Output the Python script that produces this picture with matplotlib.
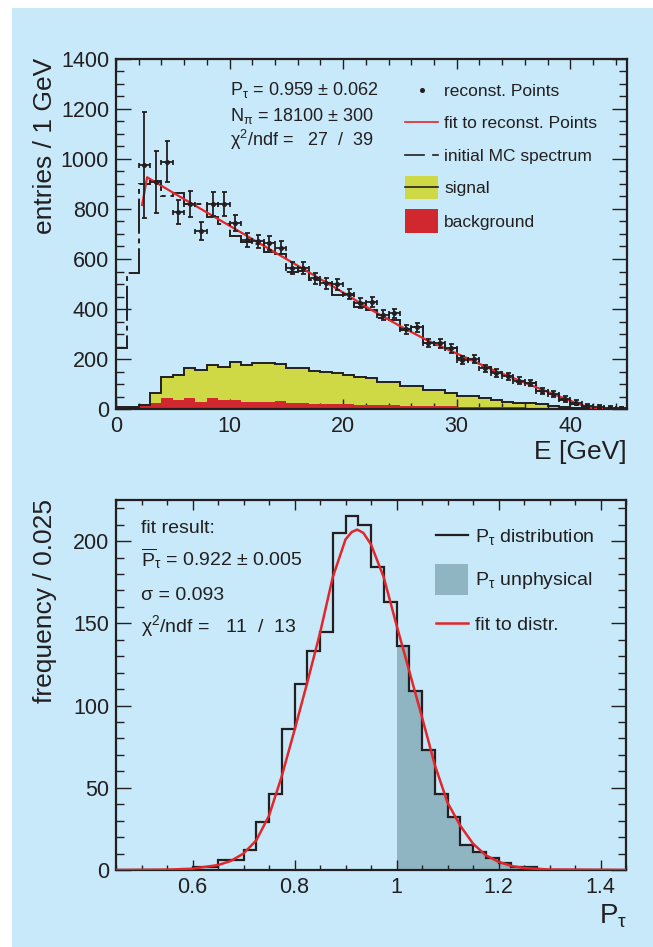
import numpy as np
import matplotlib
matplotlib.use("Agg")
import matplotlib.pyplot as plt
from matplotlib.patches import Rectangle
from matplotlib.lines import Line2D
from matplotlib.ticker import MultipleLocator, FixedLocator, FixedFormatter

plt.rcParams['font.family'] = ['Liberation Sans', 'DejaVu Sans']
plt.rcParams['mathtext.fontset'] = 'custom'
plt.rcParams['mathtext.rm'] = 'Liberation Sans'
plt.rcParams['mathtext.it'] = 'Liberation Sans:italic'
plt.rcParams['mathtext.bf'] = 'Liberation Sans:bold'

# ---------------- energy spectrum (1 GeV bins, 0..45 GeV) ----------------
e_edges = np.arange(0, 46, 1.0)

mc_spectrum = [244, 545, 900, 913, 853, 863, 820, 820, 769, 740,
               693, 669, 660, 629, 620, 550, 553, 516, 503, 456,
               456, 409, 396, 363, 356, 316, 329, 263, 256, 243,
               203, 196, 167, 149, 136, 109, 103, 73, 56, 36,
               20, 9, 0, 0, 0]

signal = [8, 10, 16, 65, 129, 136, 163, 156, 176, 167,
          187, 176, 183, 183, 179, 163, 163, 153, 149, 143,
          136, 127, 126, 109, 109, 93, 93, 76, 76, 65,
          52, 52, 43, 36, 29, 25, 25, 20, 13, 9,
          5, 3, 1, 0, 0]

background = [6, 8, 12, 26, 46, 36, 46, 29, 45, 36,
              36, 29, 27, 29, 32, 23, 23, 22, 21, 20,
              19, 18, 16, 16, 15, 14, 14, 12, 12, 11,
              10, 10, 9, 8, 8, 7, 6, 6, 5, 4,
              3, 2, 1, 1, 0]

reco_E = [2.5, 3.5, 4.5, 5.5, 6.5, 7.5, 8.5, 9.5, 10.5, 11.5,
          12.5, 13.5, 14.5, 15.5, 16.5, 17.5, 18.5, 19.5, 20.5, 21.5,
          22.5, 23.5, 24.5, 25.5, 26.5, 27.5, 28.5, 29.5, 30.5, 31.5,
          32.5, 33.5, 34.5, 35.5, 36.5, 37.5, 38.5, 39.5, 40.5, 41.5,
          42.5, 43.5, 44.5]
reco_N = [975, 907, 989, 787, 820, 711, 820, 820, 743, 675,
          670, 664, 644, 564, 566, 523, 503, 499, 460, 425,
          429, 376, 383, 320, 327, 265, 263, 243, 196, 199,
          163, 145, 132, 113, 105, 73, 60, 40, 25, 12,
          7, 4, 3]
reco_err = [212, 125, 83, 47, 53, 35, 48, 47, 33, 28,
            27, 27, 26, 24, 24, 22, 22, 21, 20, 20,
            20, 19, 19, 18, 18, 17, 17, 17, 16, 16,
            15, 15, 14, 14, 13, 12, 12, 11, 10, 9,
            8, 7, 7]

fit_E = [2.3, 2.74, 5, 10, 15, 20, 22.35, 25, 27.35, 30, 33.2, 36, 39.1, 40, 41, 41.8, 42.3, 45]
fit_N = [816, 927, 866, 733, 600, 466, 400, 332, 276, 222, 156, 105, 49, 33, 16, 5, 0, 0]

# ---------------- P_tau distribution (0.025 bins) ----------------
p_edges = np.round(np.arange(0.45, 1.4501, 0.025), 3)
p_counts = [0, 0, 0, 0, 0, 0,
            2, 2, 6, 6, 12, 29, 46, 86, 113, 133,
            145, 205, 215, 210, 184, 163, 136, 109, 73, 46,
            32, 15, 11, 7, 4, 2, 2, 0, 0, 0,
            0, 0, 0, 0]

pfit_P = [0.45, 0.55, 0.6, 0.65, 0.675, 0.7, 0.725, 0.75, 0.775, 0.8,
          0.825, 0.85, 0.875, 0.9, 0.912, 0.923, 0.935, 0.95, 0.975, 1.0,
          1.025, 1.05, 1.075, 1.1, 1.125, 1.15, 1.175, 1.2, 1.225, 1.25,
          1.3, 1.45]
pfit_N = [0, 0.2, 0.8, 3, 5.5, 10, 18, 33, 57, 85,
          114, 144, 178, 201, 205.5, 207, 205, 198, 178, 149,
          121, 93, 64, 41, 27, 16, 9, 5, 2.5, 1.2,
          0.3, 0]

INK = '#231f20'
BLUE_BG = '#c8e9f9'
YELLOW = '#cfd946'
RED_FILL = '#d0282e'
RED_LINE = '#e3262a'
SHADE = '#8fb4c2'

W, H = 653, 947
fig = plt.figure(figsize=(W / 100, H / 100), dpi=100)
fig.patch.set_facecolor('white')
fig.patches.append(Rectangle((12 / W, 0), 1 - 12 / W, 1 - 8 / H,
                             transform=fig.transFigure, facecolor=BLUE_BG,
                             edgecolor='none', zorder=-10))


def fx(x):
    return x / W


def fy(y):
    return 1 - y / H


def style_axes(ax, xmaj_len, xmin_len, ymaj_len, ymin_len):
    ax.set_facecolor('none')
    for s in ax.spines.values():
        s.set_linewidth(1.6)
        s.set_color(INK)
    ax.tick_params(which='both', direction='in', top=True, right=True,
                   colors=INK, width=1.0, labelsize=15.5, pad=5)
    ax.tick_params(axis='x', which='major', length=xmaj_len)
    ax.tick_params(axis='x', which='minor', length=xmin_len)
    ax.tick_params(axis='y', which='major', length=ymaj_len)
    ax.tick_params(axis='y', which='minor', length=ymin_len)


# ---------------- upper panel ----------------
ax1 = fig.add_axes([fx(116), fy(409), 511 / W, 350 / H])
style_axes(ax1, 7, 4, 11, 6)
ax1.set_xlim(0, 45)
ax1.set_ylim(0, 1400)
ax1.xaxis.set_major_locator(MultipleLocator(10))
ax1.xaxis.set_minor_locator(MultipleLocator(2))
ax1.yaxis.set_major_locator(MultipleLocator(200))
ax1.yaxis.set_minor_locator(MultipleLocator(50))

ax1.stairs(signal, e_edges, fill=True, color=YELLOW, zorder=1)
ax1.stairs(background, e_edges, fill=True, color=RED_FILL, zorder=2)
ax1.stairs(signal, e_edges, color=INK, lw=1.4, zorder=3)
ax1.stairs(mc_spectrum, e_edges, color=INK, lw=1.4, zorder=3,
           linestyle=(0, (18, 2.5, 2.5, 2.5)))
ax1.plot(fit_E, fit_N, color=RED_LINE, lw=1.6, zorder=4)
ax1.errorbar(reco_E, reco_N, yerr=reco_err, xerr=0.5, fmt='o', ms=2.6,
             color=INK, ecolor=INK, elinewidth=1.3, capsize=1.8, capthick=1.3,
             zorder=5)

fig.text(fx(45), fy(58), 'entries / 1 GeV', rotation=90, ha='center', va='top',
         fontsize=19, color=INK)
fig.text(fx(627), fy(452), 'E [GeV]', ha='right', va='center', fontsize=19, color=INK)

# fit summary
fs_top = 12.5
fs_res = 13
fig.text(fx(230), fy(95), r'P$_{\mathrm{τ}}$ = 0.959 ± 0.062', fontsize=fs_res, color=INK, va='baseline')
fig.text(fx(230), fy(121.5), r'N$_{\mathrm{π}}$ = 18100 ± 300', fontsize=fs_res, color=INK, va='baseline')
fig.text(fx(230), fy(146.5), r'χ$^{2}$/ndf =   27  /  39', fontsize=fs_res, color=INK, va='baseline')

# legend (upper)
tx = fx(444)
fig.text(tx, fy(96), 'reconst. Points', fontsize=fs_top, color=INK, va='baseline')
fig.text(tx, fy(128.5), 'fit to reconst. Points', fontsize=fs_top, color=INK, va='baseline')
fig.text(tx, fy(161), 'initial MC spectrum', fontsize=fs_top, color=INK, va='baseline')
fig.text(tx, fy(192.5), 'signal', fontsize=fs_top, color=INK, va='baseline')
fig.text(tx, fy(227), 'background', fontsize=fs_top, color=INK, va='baseline')

fig.lines.append(Line2D([fx(421.7)], [fy(90)], marker='o', ms=2.6, color=INK,
                        transform=fig.transFigure))
fig.lines.append(Line2D([fx(405), fx(438)], [fy(121.7)] * 2, color=RED_LINE, lw=1.2,
                        transform=fig.transFigure))
fig.lines.append(Line2D([fx(405), fx(424)], [fy(155)] * 2, color=INK, lw=1.2,
                        transform=fig.transFigure))
fig.lines.append(Line2D([fx(433), fx(437.5)], [fy(155)] * 2, color=INK, lw=1.2,
                        transform=fig.transFigure))
fig.patches.append(Rectangle((fx(405), fy(199.3)), 33.3 / W, 23.3 / H, facecolor=YELLOW,
                             edgecolor='none', transform=fig.transFigure))
fig.lines.append(Line2D([fx(405), fx(438.3)], [fy(186.7)] * 2, color=INK, lw=1.2,
                        transform=fig.transFigure))
fig.patches.append(Rectangle((fx(405), fy(233.3)), 33.3 / W, 24 / H, facecolor=RED_FILL,
                             edgecolor='none', transform=fig.transFigure))

# ---------------- lower panel ----------------
ax2 = fig.add_axes([fx(116), fy(870), 510 / W, 370 / H])
style_axes(ax2, 7, 3.6, 11, 5.8)
ax2.set_xlim(0.45, 1.45)
ax2.set_ylim(0, 225)
ax2.xaxis.set_major_locator(FixedLocator([0.6, 0.8, 1.0, 1.2, 1.4]))
ax2.xaxis.set_major_formatter(FixedFormatter(['0.6', '0.8', '1', '1.2', '1.4']))
ax2.xaxis.set_minor_locator(MultipleLocator(0.05))
ax2.yaxis.set_major_locator(MultipleLocator(50))
ax2.yaxis.set_minor_locator(MultipleLocator(10))

p_counts_arr = np.asarray(p_counts, dtype=float)
phys_cut = int(np.argmin(np.abs(p_edges - 1.0)))
ax2.stairs(p_counts_arr[phys_cut:], p_edges[phys_cut:], fill=True, color=SHADE,
           zorder=1)
ax2.stairs(p_counts_arr, p_edges, color=INK, lw=1.6, zorder=2)
ax2.plot(pfit_P, pfit_N, color=RED_LINE, lw=1.8, zorder=3)

fig.text(fx(45), fy(499), 'frequency / 0.025', rotation=90, ha='center', va='top',
         fontsize=19, color=INK)
fig.text(fx(627), fy(923), r'P$_{\mathrm{τ}}$', ha='right', va='baseline', fontsize=20,
         color=INK)

fs_bot = 14
fig.text(fx(140.7), fy(533.3), 'fit result:', fontsize=fs_bot, color=INK, va='baseline')
fig.text(fx(140.7), fy(566), r'$\overline{\mathrm{P}}_{\mathrm{τ}}$ = 0.922 ± 0.005',
         fontsize=fs_bot, color=INK, va='baseline')
fig.text(fx(140.7), fy(600), 'σ = 0.093', fontsize=fs_bot, color=INK, va='baseline')
fig.text(fx(140.7), fy(632), r'χ$^{2}$/ndf =   11  /  13', fontsize=fs_bot, color=INK,
         va='baseline')

bx = fx(475)
fig.text(bx, fy(541.7), r'P$_{\mathrm{τ}}$ distribution', fontsize=fs_bot, color=INK,
         va='baseline')
fig.text(bx, fy(585), r'P$_{\mathrm{τ}}$ unphysical', fontsize=fs_bot, color=INK,
         va='baseline')
fig.text(bx, fy(630), 'fit to distr.', fontsize=fs_bot, color=INK, va='baseline')
fig.lines.append(Line2D([fx(436), fx(468.3)], [fy(535)] * 2, color=INK, lw=1.6,
                        transform=fig.transFigure))
fig.patches.append(Rectangle((fx(435), fy(595)), 33.3 / W, 31 / H, facecolor=SHADE,
                             edgecolor='none', transform=fig.transFigure))
fig.lines.append(Line2D([fx(436), fx(468.3)], [fy(623.3)] * 2, color=RED_LINE, lw=1.8,
                        transform=fig.transFigure))

fig.savefig('out.png', dpi=100, facecolor='white')
